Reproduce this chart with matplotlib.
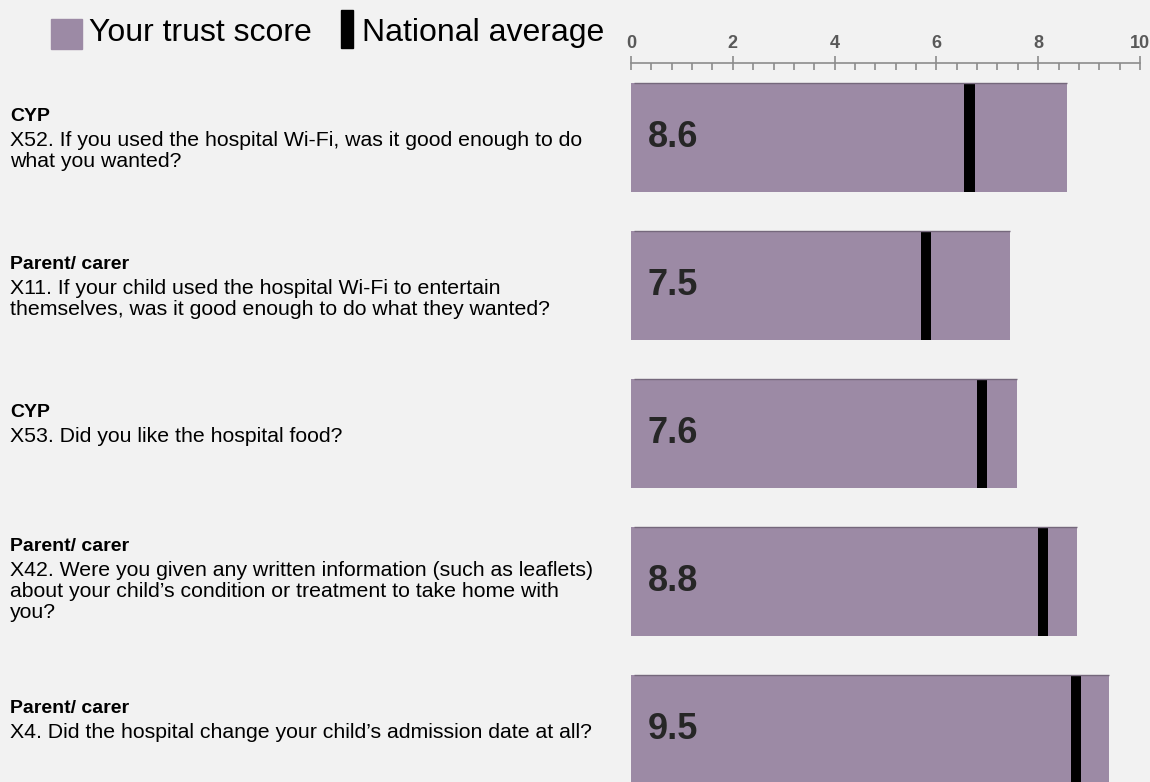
import matplotlib
matplotlib.use("Agg")
import matplotlib.pyplot as plt
import matplotlib.transforms as mtransforms
from matplotlib.patches import Rectangle
from matplotlib.ticker import MultipleLocator

# --- Données ---
groups = ["CYP", "Parent/ carer", "CYP", "Parent/ carer", "Parent/ carer"]
questions = [
    "X52. If you used the hospital Wi-Fi, was it good enough to do\nwhat you wanted?",
    "X11. If your child used the hospital Wi-Fi to entertain\nthemselves, was it good enough to do what they wanted?",
    "X53. Did you like the hospital food?",
    "X42. Were you given any written information (such as leaflets)\nabout your child\u2019s condition or treatment to take home with\nyou?",
    "X4. Did the hospital change your child\u2019s admission date at all?",
]
trust_scores = [8.6, 7.5, 7.6, 8.8, 9.5]
bar_ends = [8.57, 7.45, 7.58, 8.77, 9.4]
national_avg = [6.65, 5.8, 6.9, 8.1, 8.75]
x_ticks = [0, 2, 4, 6, 8, 10]

bar_color = "#9c8aa5"
bg = "#f2f2f2"
W, H = 1150, 782

plt.rcParams["font.family"] = ["Liberation Sans", "DejaVu Sans"]

fig = plt.figure(figsize=(W / 100, H / 100), dpi=100, facecolor=bg)
ax = fig.add_axes([631 / W, 0, (1140 - 631) / W, (782 - 63) / H])
ax.set_facecolor(bg)

ypos = list(range(len(trust_scores)))
bar_h = 109 / 148
ax.barh(ypos, bar_ends, height=bar_h, color=bar_color, edgecolor="none")
# fin liseré sombre en haut des barres
ax.hlines([y - bar_h / 2 for y in ypos], 0.06, bar_ends, color="#75687c", lw=1)
ax.barh(ypos, [0.2] * len(national_avg), left=[v - 0.1 for v in national_avg],
        height=bar_h, color="black", edgecolor="none")

for y, s in zip(ypos, trust_scores):
    ax.text(0.33, y, f"{s:.1f}", fontsize=26, fontweight="bold", color="#262626",
            va="center", ha="left")

ax.set_xlim(0, 10)
ax.set_ylim(4.355, -0.503)

# axe du haut
for side in ["left", "right", "bottom"]:
    ax.spines[side].set_visible(False)
ax.spines["top"].set_color("#8c8c8c")
ax.spines["top"].set_linewidth(1.2)
ax.xaxis.tick_top()
ax.set_xticks(x_ticks)
ax.xaxis.set_minor_locator(MultipleLocator(0.4))
ax.tick_params(axis="x", which="major", direction="inout", length=10, width=1.2,
               color="#8c8c8c", labelsize=13, labelcolor="#595959", pad=3)
ax.tick_params(axis="x", which="minor", direction="in", length=5, width=1.2,
               color="#8c8c8c")
for lbl in ax.get_xticklabels():
    lbl.set_fontweight("bold")
ax.set_yticks([])

# textes à gauche
trans = mtransforms.blended_transform_factory(fig.transFigure, ax.transData)
for y, g, q in zip(ypos, groups, questions):
    k = q.count("\n") + 1
    b0 = 16.5 + 14 * (max(k, 2) - 2)
    ax.annotate(g, xy=(10 / W, y), xycoords=trans, xytext=(0, b0), textcoords="offset pixels",
                fontsize=14, fontweight="bold", color="black", va="baseline", ha="left")
    # va="baseline" ancre la dernière ligne
    ax.annotate(q, xy=(10 / W, y), xycoords=trans,
                xytext=(0, b0 - 25 - 21 * (k - 1)), textcoords="offset pixels",
                fontsize=15.3, color="black", va="baseline", ha="left", linespacing=1.13)

# légende
fig.patches.append(Rectangle((51 / W, 1 - 49 / H), 31 / W, 30 / H, transform=fig.transFigure,
                             color=bar_color))
fig.text(89 / W, 1 - 33 / H, "Your trust score", fontsize=23, va="center", ha="left")
fig.patches.append(Rectangle((341 / W, 1 - 48 / H), 12 / W, 38 / H, transform=fig.transFigure,
                             color="black"))
fig.text(362 / W, 1 - 33 / H, "National average", fontsize=23, va="center", ha="left")

fig.savefig("out.png", dpi=100, facecolor=bg)
